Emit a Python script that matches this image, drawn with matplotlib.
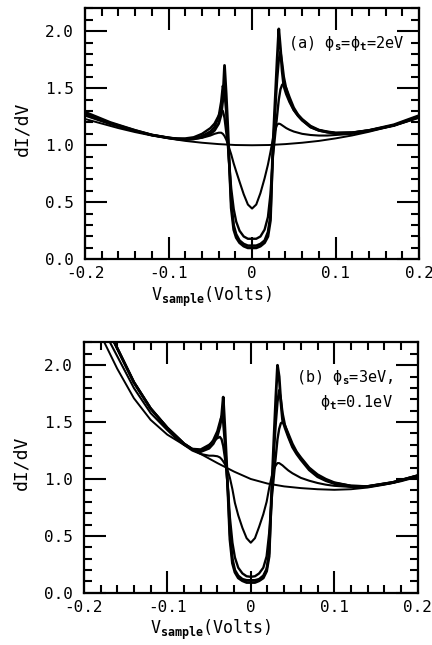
import matplotlib
matplotlib.use("Agg")
import matplotlib.pyplot as plt
from matplotlib.ticker import MultipleLocator
import numpy as np

plt.rcParams["font.family"] = ["DejaVu Sans Mono", "DejaVu Sans"]
plt.rcParams["mathtext.fontset"] = "custom"
plt.rcParams["mathtext.rm"] = "DejaVu Sans Mono"
plt.rcParams["mathtext.it"] = "DejaVu Sans Mono"
plt.rcParams["mathtext.bf"] = "DejaVu Sans Mono:bold"

# sample bias grid shared by the superconducting curves (V)
v = [-0.20, -0.17, -0.14, -0.12, -0.10, -0.09, -0.08, -0.07, -0.06, -0.05,
     -0.045, -0.040, -0.037, -0.035, -0.033, -0.031, -0.029, -0.027, -0.025, -0.022,
     -0.019, -0.015, -0.010, -0.005, 0.000, 0.005, 0.010, 0.015, 0.019, 0.022,
     0.025, 0.028, 0.030, 0.032, 0.034, 0.036, 0.038, 0.041, 0.045, 0.050,
     0.055, 0.060, 0.070, 0.080, 0.090, 0.100, 0.120, 0.140, 0.170, 0.200]

# normal-state backgrounds
v_bg = [-0.20, -0.18, -0.16, -0.14, -0.12, -0.10, -0.08, -0.06, -0.04, -0.02, 0.00,
        0.02, 0.04, 0.06, 0.08, 0.10, 0.12, 0.14, 0.16, 0.18, 0.20]
bg_a = [1.23, 1.19, 1.15, 1.115, 1.085, 1.06, 1.038, 1.022, 1.01, 1.002, 1.0,
        1.002, 1.01, 1.022, 1.038, 1.06, 1.086, 1.118, 1.155, 1.195, 1.24]
bg_b = [2.60, 2.27, 1.97, 1.71, 1.52, 1.39, 1.30, 1.22, 1.14, 1.065, 1.0,
        0.96, 0.935, 0.92, 0.91, 0.905, 0.91, 0.925, 0.95, 0.98, 1.02]

# panel (a): phi_s = phi_t = 2 eV
a_A = [1.26, 1.185, 1.125, 1.09, 1.065, 1.055, 1.05, 1.055, 1.065, 1.085,
       1.10, 1.11, 1.11, 1.10, 1.08, 1.05, 1.01, 0.965, 0.92, 0.84,
       0.77, 0.68, 0.57, 0.48, 0.445, 0.48, 0.58, 0.71, 0.83, 0.94,
       1.06, 1.14, 1.18, 1.19, 1.185, 1.175, 1.165, 1.15, 1.135, 1.12,
       1.11, 1.10, 1.09, 1.085, 1.085, 1.09, 1.10, 1.125, 1.17, 1.245]
a_B = [1.27, 1.19, 1.125, 1.09, 1.065, 1.06, 1.06, 1.07, 1.10, 1.15,
       1.19, 1.26, 1.31, 1.30, 1.24, 1.12, 1.00, 0.80, 0.62, 0.44,
       0.33, 0.25, 0.20, 0.18, 0.18, 0.18, 0.20, 0.26, 0.37, 0.57,
       0.90, 1.12, 1.26, 1.40, 1.49, 1.53, 1.54, 1.50, 1.42, 1.33,
       1.27, 1.23, 1.17, 1.135, 1.12, 1.11, 1.11, 1.13, 1.175, 1.25]
a_C = [1.28, 1.195, 1.13, 1.09, 1.065, 1.055, 1.05, 1.06, 1.08, 1.12,
       1.16, 1.25, 1.38, 1.52, 1.46, 1.30, 1.05, 0.78, 0.50, 0.30,
       0.22, 0.165, 0.135, 0.12, 0.12, 0.12, 0.135, 0.165, 0.24, 0.38,
       0.95, 1.35, 1.58, 1.75, 1.82, 1.72, 1.60, 1.49, 1.39, 1.31,
       1.26, 1.22, 1.16, 1.13, 1.115, 1.105, 1.11, 1.13, 1.175, 1.255]
a_D = [1.29, 1.20, 1.13, 1.09, 1.065, 1.055, 1.05, 1.055, 1.07, 1.10,
       1.13, 1.19, 1.27, 1.40, 1.70, 1.45, 1.15, 0.80, 0.45, 0.26,
       0.19, 0.145, 0.115, 0.10, 0.10, 0.10, 0.115, 0.145, 0.20, 0.34,
       1.00, 1.45, 1.75, 2.02, 1.85, 1.65, 1.52, 1.45, 1.38, 1.31,
       1.26, 1.22, 1.16, 1.13, 1.115, 1.105, 1.11, 1.13, 1.18, 1.26]

# panel (b): phi_s = 3 eV, phi_t = 0.1 eV
b_A = [2.72, 2.22, 1.80, 1.58, 1.43, 1.36, 1.30, 1.25, 1.22, 1.205,
       1.205, 1.20, 1.19, 1.175, 1.155, 1.13, 1.10, 1.06, 1.01, 0.91,
       0.79, 0.68, 0.57, 0.48, 0.44, 0.48, 0.58, 0.69, 0.80, 0.92,
       1.02, 1.09, 1.12, 1.14, 1.14, 1.13, 1.12, 1.10, 1.075, 1.05,
       1.03, 1.01, 0.985, 0.965, 0.95, 0.94, 0.93, 0.93, 0.965, 1.025]
b_B = [2.85, 2.30, 1.85, 1.62, 1.45, 1.38, 1.31, 1.265, 1.26, 1.30,
       1.33, 1.36, 1.37, 1.35, 1.29, 1.19, 1.06, 0.88, 0.66, 0.44,
       0.31, 0.22, 0.17, 0.145, 0.14, 0.145, 0.17, 0.22, 0.32, 0.52,
       0.82, 1.05, 1.20, 1.35, 1.44, 1.49, 1.50, 1.47, 1.40, 1.31,
       1.24, 1.19, 1.10, 1.04, 1.00, 0.97, 0.94, 0.935, 0.97, 1.03]
b_C = [2.85, 2.30, 1.85, 1.62, 1.45, 1.38, 1.31, 1.26, 1.25, 1.29,
       1.34, 1.42, 1.50, 1.55, 1.50, 1.32, 1.10, 0.84, 0.52, 0.30,
       0.20, 0.15, 0.12, 0.11, 0.11, 0.11, 0.12, 0.15, 0.21, 0.35,
       0.85, 1.28, 1.50, 1.68, 1.78, 1.70, 1.58, 1.47, 1.38, 1.29,
       1.23, 1.18, 1.09, 1.03, 0.99, 0.965, 0.94, 0.935, 0.97, 1.03]
b_D = [2.85, 2.30, 1.85, 1.62, 1.45, 1.38, 1.31, 1.26, 1.24, 1.27,
       1.31, 1.38, 1.46, 1.55, 1.72, 1.45, 1.15, 0.82, 0.47, 0.26,
       0.18, 0.13, 0.105, 0.09, 0.09, 0.09, 0.105, 0.13, 0.19, 0.32,
       0.90, 1.40, 1.72, 2.00, 1.90, 1.68, 1.52, 1.45, 1.37, 1.28,
       1.22, 1.17, 1.08, 1.02, 0.985, 0.96, 0.935, 0.935, 0.97, 1.03]

xticks = [-0.2, -0.1, 0.0, 0.1, 0.2]
xticklabels = ["-0.2", "-0.1", "0", "0.1", "0.2"]
yticks = [0.0, 0.5, 1.0, 1.5, 2.0]
yticklabels = ["0.0", "0.5", "1.0", "1.5", "2.0"]


def style_axes(ax):
    ax.set_xlim(-0.2, 0.2)
    ax.set_ylim(0.0, 2.2)
    ax.xaxis.set_minor_locator(MultipleLocator(0.02))
    ax.yaxis.set_minor_locator(MultipleLocator(0.1))
    ax.set_xticks(xticks)
    ax.set_xticklabels(xticklabels)
    ax.set_yticks(yticks)
    ax.set_yticklabels(yticklabels)
    ax.tick_params(which="both", direction="in", top=True, right=True, width=1.5,
                   labelsize=11.5)
    ax.tick_params(axis="y", which="major", length=16, pad=8)
    ax.tick_params(axis="x", which="major", length=16, pad=5)
    ax.tick_params(which="minor", length=6)
    for s in ax.spines.values():
        s.set_linewidth(1.6)
    ax.set_xlabel(r"V$_{\mathbf{sample}}$(Volts)", fontsize=12)
    ax.xaxis.set_label_coords(0.38, -0.1)
    ax.set_ylabel("dI/dV", fontsize=13)
    ax.yaxis.set_label_coords(-0.16, 0.52)


fig = plt.figure(figsize=(4.32, 6.45), dpi=100)
ax1 = fig.add_axes([0.197, 0.598, 0.773, 0.389])
ax2 = fig.add_axes([0.194, 0.081, 0.773, 0.388])

for ax, bg, curves in [(ax1, bg_a, [a_A, a_B, a_C, a_D]),
                       (ax2, bg_b, [b_A, b_B, b_C, b_D])]:
    ax.plot(v_bg, bg, color="black", lw=1.4)
    for y, lw in zip(curves, [1.5, 1.7, 1.8, 2.0]):
        ax.plot(v, y, color="black", lw=lw)
    style_axes(ax)

ax1.text(0.0436, 1.89, r"(a) ϕ$_\mathbf{s}$=ϕ$_\mathbf{t}$=2eV", fontsize=11,
         ha="left", va="center")
ax2.text(0.054, 1.89, r"(b) ϕ$_\mathbf{s}$=3eV,", fontsize=11, ha="left", va="center")
ax2.text(0.170, 1.675, r"ϕ$_\mathbf{t}$=0.1eV", fontsize=11, ha="right", va="center")

fig.savefig("out.png", dpi=100)
